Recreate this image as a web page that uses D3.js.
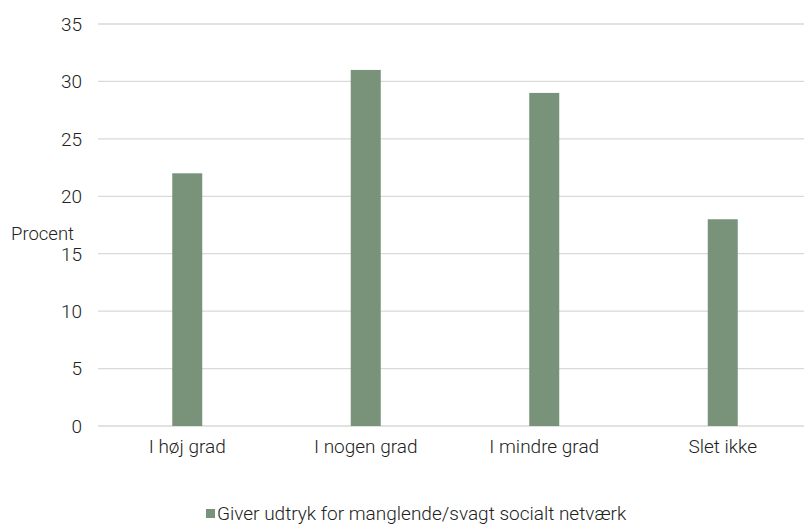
<!DOCTYPE html>
<html><head><meta charset="utf-8">
<script src="https://cdn.jsdelivr.net/npm/d3@7"></script>
<style>body{margin:0;background:#fff}svg{display:block}text{font-family:Roboto,sans-serif;fill:#222}</style>
</head><body>
<svg id="c" width="804" height="530"></svg>
<script>
const categories = ["I høj grad","I nogen grad","I mindre grad","Slet ikke"];
const values = [22,31,29,18];
const yTicks = [0,5,10,15,20,25,30,35];
const seriesName = "Giver udtryk for manglende/svagt socialt netværk";
const yLabel = "Procent";

const svg = d3.select("#c");
const x = d3.scaleBand().domain(categories).range([98, 812]);
const y = d3.scaleLinear().domain([0,35]).range([426, 24]);
const barW = 30;
const color = "#78937a";

svg.append("g").selectAll("line").data(yTicks).join("line")
  .attr("x1",98).attr("x2",804).attr("y1",d=>y(d)).attr("y2",d=>y(d))
  .attr("stroke","#d9d9d9").attr("stroke-width",1.3);

svg.append("g").selectAll("text").data(yTicks).join("text")
  .attr("x",82).attr("y",d=>y(d)).attr("dy","0.36em").attr("text-anchor","end")
  .attr("font-size",19).attr("font-weight",300).text(d=>d);

svg.append("g").selectAll("rect").data(values).join("rect")
  .attr("x",(d,i)=>x(categories[i])+x.bandwidth()/2-barW/2)
  .attr("width",barW).attr("y",d=>y(d)).attr("height",d=>y(0)-y(d))
  .attr("fill",color);

svg.append("g").selectAll("text").data(categories).join("text")
  .attr("x",d=>x(d)+x.bandwidth()/2).attr("y",453).attr("text-anchor","middle")
  .attr("font-size",19).attr("font-weight",300).text(d=>d);

svg.append("text").attr("x",11).attr("y",240).attr("font-size",18.5).attr("font-weight",300).text(yLabel);

svg.append("rect").attr("x",206).attr("y",509).attr("width",9).attr("height",9).attr("fill",color);
svg.append("text").attr("x",217).attr("y",520).attr("font-size",19).attr("font-weight",300).text(seriesName);
</script>
</body></html>
